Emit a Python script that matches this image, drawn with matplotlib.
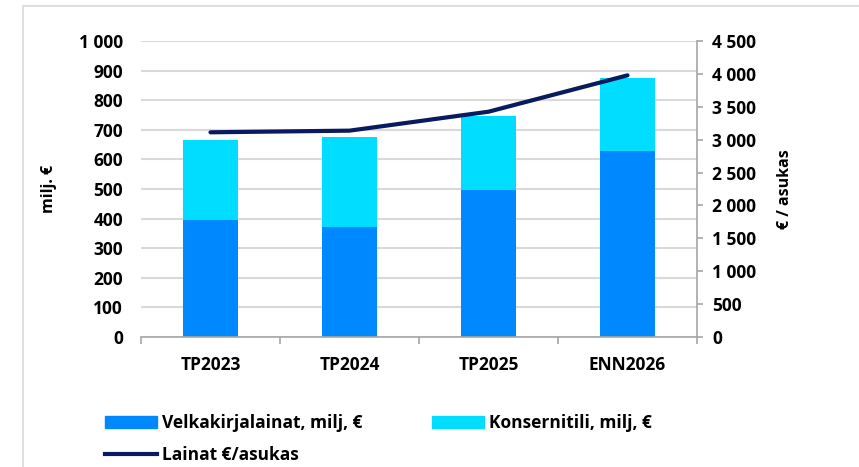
import matplotlib.pyplot as plt
from matplotlib.patches import Patch, Rectangle
from matplotlib.lines import Line2D
from matplotlib.ticker import FuncFormatter, MultipleLocator, FixedLocator
import numpy as np

plt.rcParams['font.family'] = ['Open Sans', 'DejaVu Sans']
plt.rcParams['font.weight'] = 'bold'

categories = ['TP2023', 'TP2024', 'TP2025', 'ENN2026']
velkakirja = [396, 372, 497, 629]
konsernitili = [271, 305, 248, 247]
per_asukas = [3112, 3137, 3425, 3978]

c_dark = '#0088FF'
c_light = '#00DDFF'
c_line = '#0A1A5E'
c_grid = '#D9D9D9'
c_axis = '#A6A6A6'
fs = 12.5


def space_thousands(v, pos):
    return f'{int(v):,}'.replace(',', ' ')


fig = plt.figure(figsize=(8.59, 4.67), dpi=100)
fig.patches.append(Rectangle((23 / 859, -0.1), 1.0, 1 - 6 / 467 + 0.1,
                             transform=fig.transFigure, fill=False,
                             edgecolor=c_grid, linewidth=1.2))

ax = fig.add_axes([141 / 859, 1 - 337 / 467, (697 - 141) / 859, (337 - 41) / 467])
x = np.arange(len(categories))
ax.bar(x, velkakirja, width=0.4, color=c_dark, zorder=2)
ax.bar(x, konsernitili, width=0.4, bottom=velkakirja, color=c_light, zorder=2)

ax.set_xlim(-0.5, len(categories) - 0.5)
ax.set_ylim(0, 1000)
ax.yaxis.set_major_locator(MultipleLocator(100))
ax.yaxis.set_major_formatter(FuncFormatter(space_thousands))
ax.grid(axis='y', color=c_grid, linewidth=1.5, zorder=0)
ax.set_axisbelow(True)
for s in ['top', 'right', 'left']:
    ax.spines[s].set_visible(False)
ax.spines['bottom'].set_color(c_axis)
ax.spines['bottom'].set_linewidth(1.2)
ax.tick_params(axis='y', length=0, pad=13, labelsize=fs)
ax.set_xticks(x)
ax.set_xticklabels(categories)
ax.tick_params(axis='x', which='major', length=0, pad=14, labelsize=fs)
ax.xaxis.set_minor_locator(FixedLocator(np.arange(len(categories) + 1) - 0.5))
ax.tick_params(axis='x', which='minor', length=5, color=c_axis, width=1.2)
ax.set_ylabel('milj. €', fontsize=fs - 1, fontweight='bold', labelpad=16)

ax2 = ax.twinx()
ax2.plot(x, per_asukas, color=c_line, linewidth=3, solid_capstyle='round', zorder=3)
ax2.set_ylim(0, 4500)
ax2.yaxis.set_major_locator(MultipleLocator(500))
ax2.yaxis.set_major_formatter(FuncFormatter(space_thousands))
for s in ['top', 'left', 'bottom']:
    ax2.spines[s].set_visible(False)
ax2.spines['right'].set_color(c_axis)
ax2.spines['right'].set_linewidth(1.2)
ax2.tick_params(axis='y', length=4, color=c_axis, width=1.2, pad=7, labelsize=fs)
ax2.set_ylabel('€ / asukas', fontsize=fs - 1, fontweight='bold', labelpad=15)

handles = [Patch(color=c_dark), Line2D([], [], color=c_line, linewidth=3),
           Patch(color=c_light)]
labels = ['Velkakirjalainat, milj, €', 'Lainat €/asukas', 'Konsernitili, milj, €']
fig.legend(handles, labels, ncol=2, loc='upper left',
           bbox_to_anchor=(98 / 859, 1 - 407 / 467), frameon=False, borderaxespad=0,
           fontsize=fs, handlelength=3.0, handleheight=0.63, handletextpad=0.3,
           columnspacing=4.0, labelspacing=0.82)

fig.savefig('out.png', dpi=100)
